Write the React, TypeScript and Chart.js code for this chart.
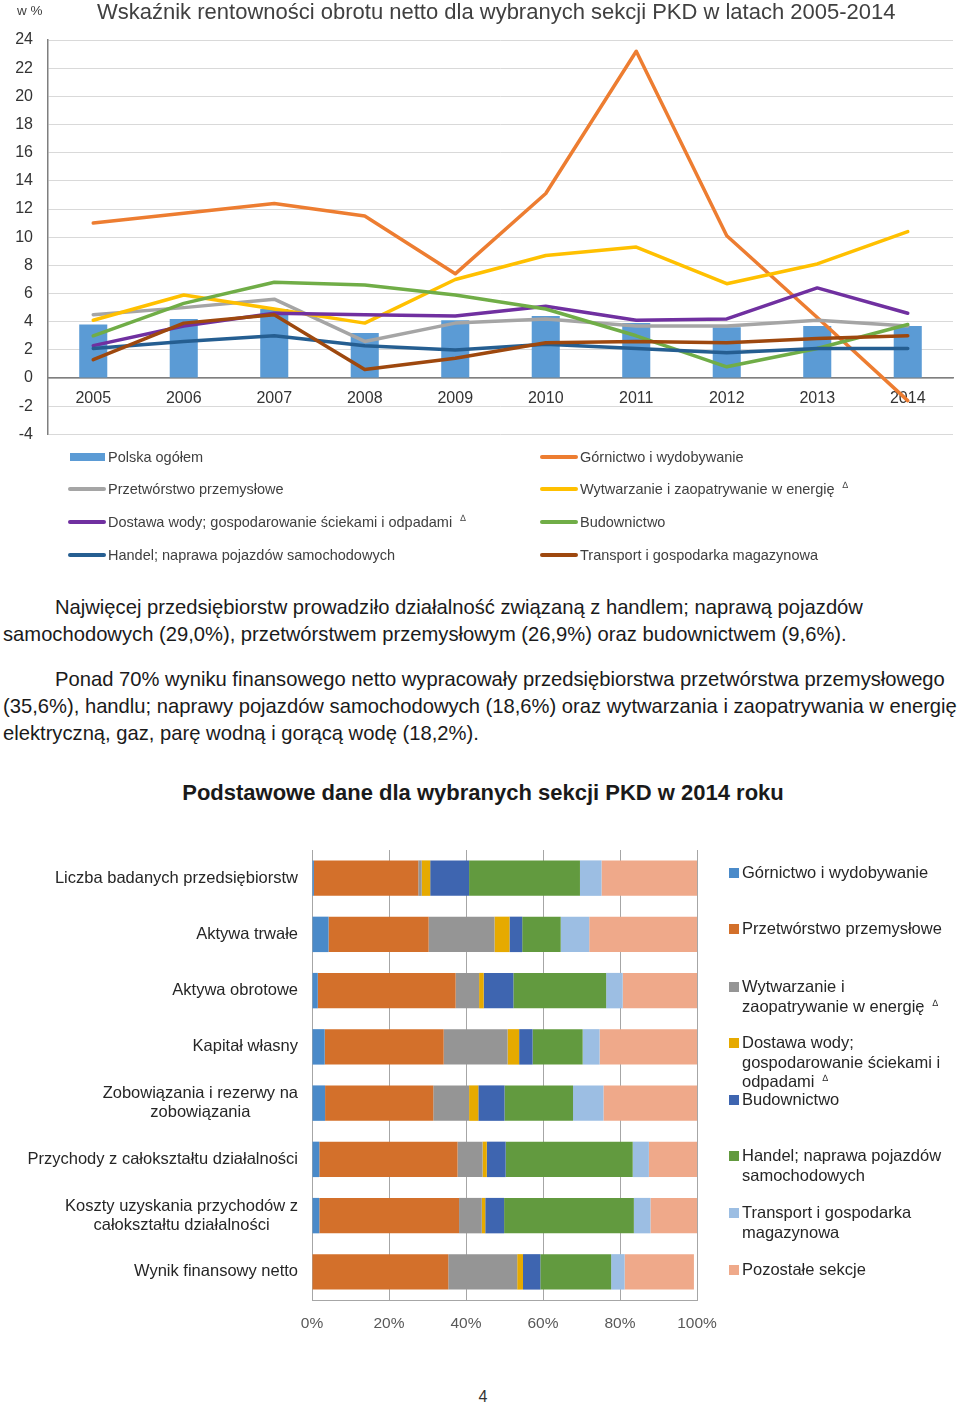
import React, { useEffect, useRef } from "react";
import { Chart, registerables } from "chart.js";

Chart.register(...registerables);

const FONT = "'Liberation Sans', Arial, Helvetica, sans-serif";
Chart.defaults.font.family = FONT;

// ---------- Chart 1: profitability 2005-2014 ----------
const years = ["2005", "2006", "2007", "2008", "2009", "2010", "2011", "2012", "2013", "2014"];
const polskaOgolem = [3.8, 4.2, 4.9, 3.2, 4.1, 4.4, 3.9, 3.6, 3.7, 3.7];
const gornictwo = [11.0, 11.7, 12.4, 11.5, 7.4, 13.1, 23.2, 10.1, 4.3, -1.6];
const przetworstwo = [4.5, 5.0, 5.6, 2.6, 3.9, 4.2, 3.7, 3.7, 4.1, 3.7];
const wytwarzanie = [4.1, 5.9, 4.9, 3.9, 7.0, 8.7, 9.3, 6.7, 8.1, 10.4];
const dostawaWody = [2.3, 3.7, 4.6, 4.5, 4.4, 5.1, 4.1, 4.2, 6.4, 4.6];
const budownictwo = [3.0, 5.3, 6.8, 6.6, 5.9, 4.9, 3.0, 0.8, 2.1, 3.8];
const handel = [2.1, 2.6, 3.0, 2.3, 2.0, 2.4, 2.1, 1.8, 2.1, 2.1];
const transport = [1.3, 3.9, 4.5, 0.6, 1.4, 2.5, 2.6, 2.5, 2.8, 3.0];
const yTicksMin = -4;
const yTicksMax = 24;

const lineSeries = [
  { label: "Górnictwo i wydobywanie", data: gornictwo, color: "#ed7d31" },
  { label: "Przetwórstwo przemysłowe", data: przetworstwo, color: "#a5a5a5" },
  { label: "Wytwarzanie i zaopatrywanie w energię", data: wytwarzanie, color: "#ffc000" },
  { label: "Dostawa wody; gospodarowanie ściekami i odpadami", data: dostawaWody, color: "#7030a0" },
  { label: "Budownictwo", data: budownictwo, color: "#70ad47" },
  { label: "Handel; naprawa pojazdów samochodowych", data: handel, color: "#255e91" },
  { label: "Transport i gospodarka magazynowa", data: transport, color: "#9e480e" },
];

// ---------- Chart 2: structure 2014 ----------
const rowLabels = [
  ["Liczba badanych przedsiębiorstw"],
  ["Aktywa trwałe"],
  ["Aktywa obrotowe"],
  ["Kapitał własny"],
  ["Zobowiązania i rezerwy na", "zobowiązania"],
  ["Przychody z całokształtu działalności"],
  ["Koszty uzyskania przychodów z", "całokształtu działalności"],
  ["Wynik finansowy netto"],
];
const gornictwo2014 = [0.5, 4.3, 1.5, 3.3, 3.4, 1.9, 1.9, 0];
const przetworstwo2014 = [27.1, 26.0, 35.8, 30.9, 28.1, 35.9, 36.3, 35.4];
const wytwarzanie2014 = [0.9, 17.1, 6.1, 16.6, 9.3, 6.5, 5.9, 17.9];
const dostawa2014 = [2.2, 3.9, 1.2, 3.0, 2.4, 1.1, 0.9, 1.5];
const budownictwo2014 = [10.1, 3.3, 7.7, 3.5, 6.8, 4.9, 4.9, 4.5];
const handel2014 = [28.8, 10.0, 24.1, 13.0, 17.8, 33.0, 33.7, 18.4];
const transport2014 = [5.6, 7.4, 4.3, 4.4, 7.9, 4.2, 4.3, 3.5];
const pozostale2014 = [24.8, 28.0, 19.3, 25.3, 24.3, 12.5, 12.1, 18.0];
const xPercentTicks = [0, 20, 40, 60, 80, 100];

const barSeries = [
  { label: "Górnictwo i wydobywanie", data: gornictwo2014, color: "#4a8ac9" },
  { label: "Przetwórstwo przemysłowe", data: przetworstwo2014, color: "#d3702b" },
  { label: "Wytwarzanie i zaopatrywanie w energię", data: wytwarzanie2014, color: "#959595" },
  { label: "Dostawa wody; gospodarowanie ściekami i odpadami", data: dostawa2014, color: "#e6aa00" },
  { label: "Budownictwo", data: budownictwo2014, color: "#3e65b0" },
  { label: "Handel; naprawa pojazdów samochodowych", data: handel2014, color: "#629a3f" },
  { label: "Transport i gospodarka magazynowa", data: transport2014, color: "#9cbee3" },
  { label: "Pozostałe sekcje", data: pozostale2014, color: "#efa98a" },
];

const Delta = () => (
  <span style={{ fontSize: 9, position: "relative", top: -6, marginLeft: 8 }}>∆</span>
);

const abs = (left: number, top: number, extra: React.CSSProperties = {}): React.CSSProperties => ({
  position: "absolute",
  left,
  top,
  whiteSpace: "nowrap",
  fontFamily: FONT,
  ...extra,
});

const yLabelPlugin = {
  id: "yLabelPlugin",
  afterDraw(chart: any) {
    const ctx = chart.ctx;
    const scale = chart.scales.y;
    const rightX = 298;
    const lh = 19;
    ctx.save();
    ctx.font = `16.5px ${FONT}`;
    ctx.fillStyle = "#262626";
    ctx.textAlign = "center";
    ctx.textBaseline = "middle";
    rowLabels.forEach((lines, i) => {
      const py = scale.getPixelForValue(i);
      const w = Math.max(...lines.map((l) => ctx.measureText(l).width));
      const cx = rightX - w / 2;
      const y0 = py - ((lines.length - 1) * lh) / 2;
      lines.forEach((l, j) => ctx.fillText(l, cx, y0 + j * lh));
    });
    ctx.restore();
  },
};

export default function App() {
  const topRef = useRef<HTMLCanvasElement>(null);
  const botRef = useRef<HTMLCanvasElement>(null);

  useEffect(() => {
    const c1 = new Chart(topRef.current!, {
      type: "bar",
      data: {
        labels: years,
        datasets: [
          {
            type: "bar",
            label: "Polska ogółem",
            data: polskaOgolem,
            backgroundColor: "#5b9bd5",
            barPercentage: 0.31,
            categoryPercentage: 1,
            order: 20,
          } as any,
          ...lineSeries.map((s, i) => ({
            type: "line",
            label: s.label,
            data: s.data,
            borderColor: s.color,
            backgroundColor: s.color,
            borderWidth: 3.5,
            pointRadius: 0,
            tension: 0,
            fill: false,
            borderJoinStyle: "round",
            borderCapStyle: "round",
            order: 10 - i,
          })),
        ],
      },
      options: {
        responsive: false,
        animation: false,
        layout: { padding: { top: 40, right: 7, bottom: 7, left: 0 } },
        plugins: { legend: { display: false }, tooltip: { enabled: false }, title: { display: false } },
        scales: {
          x: {
            position: { y: 0 } as any,
            grid: { display: false, drawTicks: false },
            border: { display: true, color: "#7f7f7f", width: 1.5 },
            ticks: { font: { size: 16 }, color: "#333333", padding: 11, maxRotation: 0, autoSkip: false },
            afterFit: (s: any) => {
              s.height = 0;
            },
          },
          y: {
            min: yTicksMin,
            max: yTicksMax,
            ticks: { stepSize: 2, font: { size: 16 }, color: "#333333", padding: 15 },
            grid: { color: "#d9d9d9", drawTicks: false, lineWidth: 1 },
            border: { color: "#7f7f7f", width: 1.5 },
            afterFit: (s: any) => {
              s.width = 48;
            },
          },
        },
      } as any,
    });

    const c2 = new Chart(botRef.current!, {
      type: "bar",
      data: {
        labels: rowLabels.map((l) => l.join(" ")),
        datasets: barSeries.map((s) => ({
          label: s.label,
          data: s.data,
          backgroundColor: s.color,
          barPercentage: 0.63,
          categoryPercentage: 1,
        })),
      },
      options: {
        indexAxis: "y",
        responsive: false,
        animation: false,
        layout: { padding: { top: 10, right: 263, bottom: 10, left: 0 } },
        plugins: { legend: { display: false }, tooltip: { enabled: false } },
        scales: {
          x: {
            stacked: true,
            min: xPercentTicks[0],
            max: xPercentTicks[xPercentTicks.length - 1],
            ticks: {
              stepSize: 20,
              callback: (v: any) => v + "%",
              font: { size: 15.5 },
              color: "#595959",
              padding: 14,
            },
            grid: { color: "#a6a6a6", drawTicks: false },
            border: { color: "#a6a6a6" },
            afterFit: (s: any) => {
              s.height = 40;
            },
          },
          y: {
            stacked: true,
            ticks: { display: false },
            grid: { display: false, drawTicks: false },
            border: { color: "#a6a6a6" },
            afterFit: (s: any) => {
              s.width = 312;
            },
          },
        },
      } as any,
      plugins: [yLabelPlugin],
    });

    return () => {
      c1.destroy();
      c2.destroy();
    };
  }, []);

  const legendTop = [
    { x: 68, y: 457, label: "Polska ogółem", color: "#5b9bd5", bar: true, delta: false },
    { x: 68, y: 489, label: "Przetwórstwo przemysłowe", color: "#a5a5a5", delta: false },
    { x: 68, y: 522, label: "Dostawa wody; gospodarowanie ściekami i odpadami", color: "#7030a0", delta: true },
    { x: 68, y: 555, label: "Handel; naprawa pojazdów samochodowych", color: "#255e91", delta: false },
    { x: 540, y: 457, label: "Górnictwo i wydobywanie", color: "#ed7d31", delta: false },
    { x: 540, y: 489, label: "Wytwarzanie i zaopatrywanie w energię", color: "#ffc000", delta: true },
    { x: 540, y: 522, label: "Budownictwo", color: "#70ad47", delta: false },
    { x: 540, y: 555, label: "Transport i gospodarka magazynowa", color: "#9e480e", delta: false },
  ];

  const legendBottom: { y: number; lines: string[]; color: string; delta?: boolean }[] = [
    { y: 873, lines: ["Górnictwo i wydobywanie"], color: barSeries[0].color },
    { y: 929, lines: ["Przetwórstwo przemysłowe"], color: barSeries[1].color },
    { y: 987, lines: ["Wytwarzanie i", "zaopatrywanie w energię"], color: barSeries[2].color, delta: true },
    { y: 1043, lines: ["Dostawa wody;", "gospodarowanie ściekami i", "odpadami"], color: barSeries[3].color, delta: true },
    { y: 1100, lines: ["Budownictwo"], color: barSeries[4].color },
    { y: 1156, lines: ["Handel; naprawa pojazdów", "samochodowych"], color: barSeries[5].color },
    { y: 1213, lines: ["Transport i gospodarka", "magazynowa"], color: barSeries[6].color },
    { y: 1270, lines: ["Pozostałe sekcje"], color: barSeries[7].color },
  ];

  const paraStyle = { fontSize: 20.2, color: "#1a1a1a", lineHeight: "27px" };
  const paraLines = [
    { x: 55, y: 607, t: "Najwięcej przedsiębiorstw prowadziło działalność związaną z handlem; naprawą pojazdów" },
    { x: 3, y: 634, t: "samochodowych (29,0%), przetwórstwem przemysłowym (26,9%) oraz budownictwem (9,6%)." },
    { x: 55, y: 679, t: "Ponad 70% wyniku finansowego netto wypracowały przedsiębiorstwa przetwórstwa przemysłowego" },
    { x: 3, y: 706, t: "(35,6%), handlu; naprawy pojazdów samochodowych (18,6%) oraz wytwarzania i zaopatrywania w energię" },
    { x: 3, y: 733, t: "elektryczną, gaz, parę wodną i gorącą wodę (18,2%)." },
  ];

  return (
    <div style={{ position: "absolute", left: 0, top: 0, width: 960, height: 1405, background: "#fff", overflow: "hidden" }}>
      <canvas ref={topRef} width={960} height={459} style={{ position: "absolute", left: 0, top: 0 }} />
      <div style={abs(17, 2, { fontSize: 13.5, color: "#404040", lineHeight: "18px" })}>w %</div>
      <div style={abs(97, -2, { fontSize: 22, color: "#404040", lineHeight: "28px" })}>
        Wskaźnik rentowności obrotu netto dla wybranych sekcji PKD w latach 2005-2014
      </div>

      {legendTop.map((it, i) => (
        <React.Fragment key={i}>
          <div
            style={{
              position: "absolute",
              left: it.bar ? it.x + 2 : it.x,
              top: it.bar ? it.y - 4 : it.y - 2,
              width: it.bar ? 35 : 38,
              height: it.bar ? 8 : 4,
              borderRadius: it.bar ? 0 : 2,
              background: it.color,
            }}
          />
          <div style={abs(it.x + 40, it.y - 10, { fontSize: 14.5, color: "#404040", lineHeight: "20px" })}>
            {it.label}
            {it.delta ? <Delta /> : null}
          </div>
        </React.Fragment>
      ))}

      {paraLines.map((p, i) => (
        <div key={i} style={abs(p.x, p.y - 13.5, paraStyle)}>
          {p.t}
        </div>
      ))}

      <div
        style={abs(0, 778, {
          width: 966,
          textAlign: "center",
          fontSize: 22,
          fontWeight: "bold",
          color: "#1a1a1a",
          lineHeight: "30px",
        })}
      >
        Podstawowe dane dla wybranych sekcji PKD w 2014 roku
      </div>

      <canvas ref={botRef} width={960} height={510} style={{ position: "absolute", left: 0, top: 840 }} />

      {legendBottom.map((it, i) => (
        <React.Fragment key={i}>
          <div style={{ position: "absolute", left: 729, top: it.y - 5, width: 10, height: 10, background: it.color }} />
          <div style={abs(742, it.y - 9.75, { fontSize: 16.5, color: "#262626", lineHeight: "19.5px" })}>
            {it.lines.map((l, j) => (
              <div key={j}>
                {l}
                {it.delta && j === it.lines.length - 1 ? <Delta /> : null}
              </div>
            ))}
          </div>
        </React.Fragment>
      ))}

      <div style={abs(0, 1386, { width: 966, textAlign: "center", fontSize: 16, color: "#333", lineHeight: "22px" })}>4</div>
    </div>
  );
}
